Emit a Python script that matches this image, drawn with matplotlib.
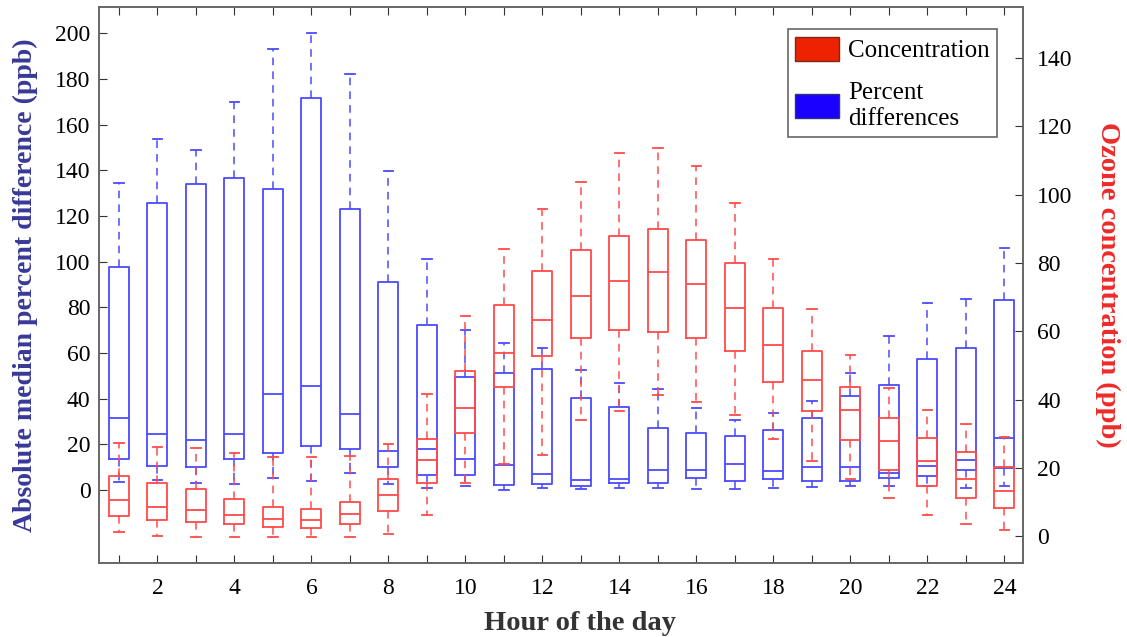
import numpy as np
import matplotlib
matplotlib.use("Agg")
import matplotlib.pyplot as plt
from matplotlib.patches import Patch

plt.rcParams['font.family'] = ['Liberation Serif', 'DejaVu Serif']

hours = list(range(1, 25))

# percent differences (left axis): upper whisker, q3, median, q1, lower whisker
pd_hi  = [134.3, 153.7, 149.0, 170.0, 193.1, 200.0, 182.2, 139.7, 101.3, 70.2, 64.4, 62.3,
          52.4, 47.1, 44.2, 36.0, 30.6, 33.7, 38.9, 51.1, 67.4, 82.0, 83.6, 105.9]
pd_q3  = [97.6, 125.5, 134.0, 136.7, 131.9, 171.7, 123.0, 90.9, 72.5, 49.3, 51.3, 53.1,
          40.3, 36.2, 27.1, 24.9, 23.6, 26.3, 31.5, 41.4, 45.9, 57.5, 62.4, 83.1]
pd_med = [31.6, 24.5, 22.0, 24.6, 41.9, 45.5, 33.4, 17.2, 18.0, 13.4, 11.1, 6.9,
          4.5, 4.8, 8.8, 9.0, 11.5, 8.4, 9.9, 9.9, 7.7, 10.6, 13.3, 22.6]
pd_q1  = [13.7, 10.4, 9.9, 13.7, 16.2, 19.4, 17.9, 10.1, 6.4, 6.6, 2.1, 2.8,
          1.9, 2.9, 2.9, 5.1, 3.8, 4.9, 4.2, 4.2, 5.3, 6.1, 8.8, 9.8]
pd_lo  = [3.4, 4.4, 2.9, 2.8, 5.1, 4.2, 7.6, 2.6, 0.8, 1.8, 0.1, 0.7,
          0.4, 1.0, 0.7, 0.3, 0.3, 1.0, 1.3, 1.9, 1.8, 1.9, 1.0, 1.8]

# ozone concentration (right axis)
oz_hi  = [27.3, 26.2, 25.7, 24.3, 23.1, 23.2, 23.6, 26.9, 41.7, 64.5, 84.2, 95.9,
          103.6, 112.1, 113.8, 108.5, 97.5, 81.1, 66.4, 53.1, 43.3, 37.0, 32.8, 29.1]
oz_q3  = [17.6, 15.5, 13.7, 10.8, 8.6, 7.9, 10.1, 16.8, 28.5, 48.3, 67.7, 77.6,
          83.7, 87.9, 90.0, 86.8, 80.1, 66.9, 54.2, 43.6, 34.7, 28.7, 24.6, 20.1]
oz_med = [10.6, 8.6, 7.7, 6.1, 5.1, 4.7, 6.4, 11.9, 22.2, 37.5, 53.6, 63.2,
          70.3, 74.8, 77.3, 73.8, 66.9, 56.1, 45.6, 37.0, 28.0, 21.9, 16.8, 13.2]
oz_q1  = [6.0, 4.7, 4.1, 3.4, 2.6, 2.4, 3.4, 7.3, 15.6, 30.1, 43.8, 52.7,
          57.9, 60.3, 59.7, 57.9, 54.3, 45.2, 36.7, 28.1, 19.4, 14.6, 11.1, 8.1]
oz_lo  = [1.3, 0.1, -0.2, -0.2, -0.2, -0.2, -0.2, 0.7, 6.1, 15.5, 21.1, 23.9,
          34.1, 36.7, 41.3, 39.2, 35.5, 28.3, 22.0, 16.7, 11.1, 6.2, 3.4, 1.8]


def make_stats(lo, q1, med, q3, hi):
    return [dict(whislo=a, q1=b, med=c, q3=d, whishi=e, fliers=[])
            for a, b, c, d, e in zip(lo, q1, med, q3, hi)]


def draw(ax, stats, col):
    ax.bxp(stats, positions=hours, widths=0.52, capwidths=0.25, showfliers=False,
           boxprops=dict(color=col, lw=1.3),
           medianprops=dict(color=col, lw=1.3),
           whiskerprops=dict(color=col, lw=1.1, linestyle=(0, (5, 4))),
           capprops=dict(color=col, lw=1.3))


blue = '#4a4aff'
red = '#ff4a4a'

fig = plt.figure(figsize=(11.27, 6.37), dpi=100)
ax = fig.add_axes([0.0878, 0.1166, 0.8202, 0.872])
ax2 = ax.twinx()

draw(ax, make_stats(pd_lo, pd_q1, pd_med, pd_q3, pd_hi), blue)
draw(ax2, make_stats(oz_lo, oz_q1, oz_med, oz_q3, oz_hi), red)

ax.set_xlim(0.48, 24.49)
ax.set_ylim(-31.8, 211.4)
ax2.set_ylim(-7.8, 154.9)

ax.set_xticks(hours)
ax.set_xticklabels([str(h) if h % 2 == 0 else '' for h in hours])
ax.set_yticks(np.arange(0, 201, 20))
ax2.set_yticks(np.arange(0, 141, 20))

ax.tick_params(axis='x', direction='in', top=True, length=6, labelsize=17, pad=11, color='#333333')
ax.tick_params(axis='y', direction='in', length=6, labelsize=17, pad=6, color='#333333')
ax2.tick_params(axis='y', direction='in', length=6, labelsize=17, pad=10, color='#333333')
for a in (ax, ax2):
    for s in a.spines.values():
        s.set_color('#666666')
        s.set_linewidth(1.2)

ax.set_xlabel('Hour of the day', fontsize=20.5, fontweight='bold', color='#333333')
ax.xaxis.set_label_coords(0.52, -0.087)
ax.set_ylabel('Absolute median percent difference (ppb)', fontsize=20, fontweight='bold',
              color='#383898', labelpad=12)
ax2.set_ylabel('Ozone concentration (ppb)', fontsize=20.5, fontweight='bold', color='#ee2a2a',
               rotation=-90, labelpad=34)

handles = [Patch(facecolor='#ee2200', edgecolor='#7a2a1a', label='Concentration'),
           Patch(facecolor='#1a00ff', edgecolor='#33337a', label='Percent\ndifferences')]
leg = ax2.legend(handles=handles, loc='upper right', fontsize=18, fancybox=False,
                 edgecolor='#666666', framealpha=1, handlelength=1.75, handleheight=1.1,
                 borderaxespad=0.0, labelspacing=0.8, handletextpad=0.35, borderpad=0.3,
                 bbox_to_anchor=(0.9714, 0.9605))
leg.get_frame().set_linewidth(1.2)

plt.savefig('out.png', dpi=100)
